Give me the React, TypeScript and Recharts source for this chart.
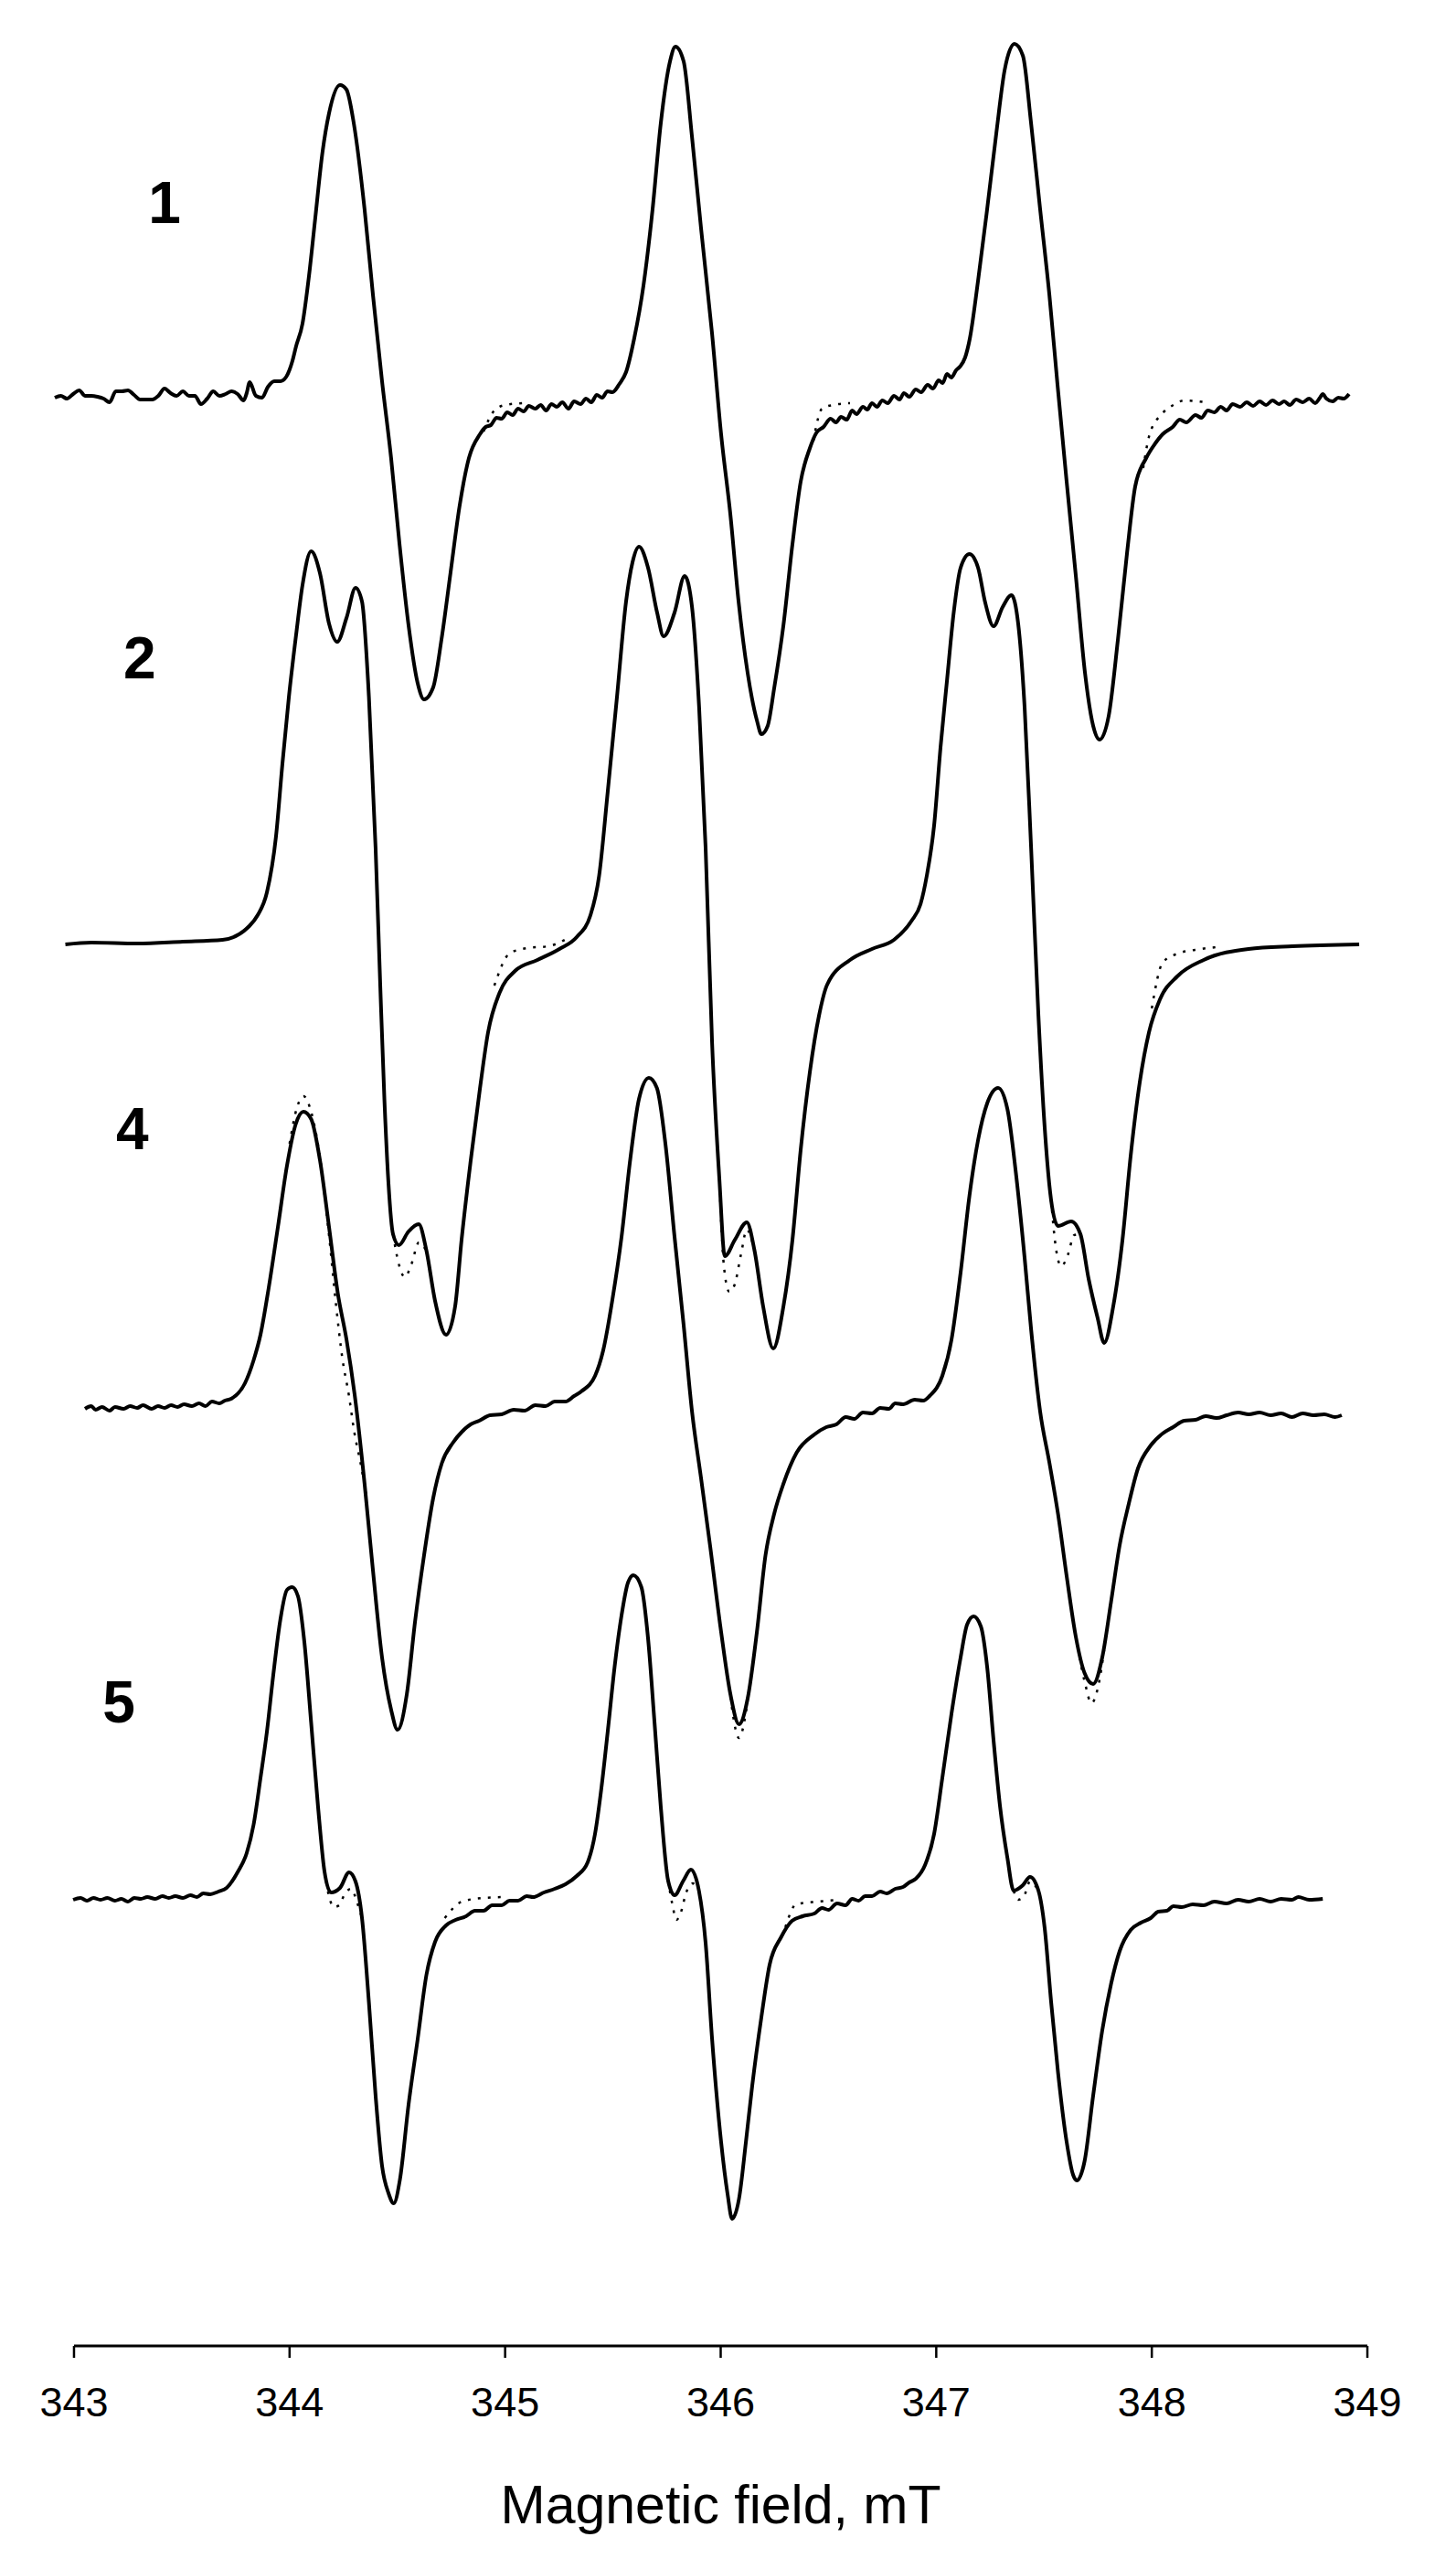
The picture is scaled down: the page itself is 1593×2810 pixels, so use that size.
import React from 'react';
import { LineChart, Line, XAxis, YAxis, ReferenceLine, ReferenceDot } from 'recharts';

type Pt = [number, number | null];

const FONT = '"Liberation Sans", Arial, Helvetica, sans-serif';

const FIELD_TICKS = [343, 344, 345, 346, 347, 348, 349];
const SPECTRUM_NAMES = ['1', '2', '4', '5'];
// baseline level of each stacked spectrum (vertical offset)
const BASELINES = [2129, 1533, 1025, 488];
const NAME_POS: [number, number][] = [
  [343.42, 2345],
  [343.305, 1847],
  [343.271, 1332],
  [343.208, 705],
];

// experimental spectra: [field mT, signal]
const EXP_1: Pt[] = [
  [342.911, 2], [342.939, 4], [342.967, 1], [342.996, 6], [343.024, 10], [343.052, 4], [343.081, 4],
  [343.109, 3], [343.137, 1], [343.165, -3], [343.194, 9], [343.222, 9], [343.25, 10], [343.279, 5],
  [343.307, 0], [343.335, 0], [343.363, 0], [343.391, 4], [343.42, 12], [343.448, 7], [343.476, 4],
  [343.505, 9], [343.533, 4], [343.561, 4], [343.589, -5], [343.618, 1], [343.646, 9], [343.674, 4],
  [343.703, 6], [343.731, 9], [343.759, 6], [343.787, -1], [343.801, 7], [343.815, 19], [343.844, 4],
  [343.872, 2], [343.9, 14], [343.929, 20], [343.957, 20], [343.985, 25], [343.999, 32], [344.013, 42],
  [344.03, 58], [344.06, 83], [344.09, 135],
  [344.119, 198], [344.153, 271], [344.183, 313], [344.234, 344], [344.264, 339], [344.298, 302],
  [344.348, 208], [344.387, 114], [344.429, 20], [344.471, -64], [344.51, -158], [344.552, -247],
  [344.594, -310], [344.624, -328], [344.666, -315], [344.705, -262], [344.747, -189], [344.789, -116],
  [344.832, -64], [344.883, -38], [344.91, -30], [344.934, -28], [344.96, -20], [344.984, -21],
  [345.01, -14], [345.035, -17], [345.06, -10], [345.086, -13], [345.11, -7], [345.14, -10],
  [345.165, -6], [345.19, -12], [345.215, -5], [345.24, -8], [345.265, -3], [345.294, -10], [345.32, -2],
  [345.35, -5], [345.375, 1], [345.4, -3], [345.425, 5], [345.45, 2], [345.475, 9], [345.498, 8],
  [345.53, 17], [345.561, 30], [345.599, 67], [345.642, 125], [345.684, 208], [345.722, 302],
  [345.765, 370], [345.79, 386], [345.828, 370], [345.867, 287], [345.909, 187], [345.96, 72],
  [346.002, -38], [346.045, -126], [346.083, -221], [346.125, -299], [346.168, -351], [346.189, -366],
  [346.218, -357], [346.248, -316], [346.291, -247], [346.333, -158], [346.371, -90], [346.414, -53],
  [346.445, -36], [346.477, -30], [346.51, -21], [346.535, -25], [346.558, -19], [346.585, -22],
  [346.61, -12], [346.63, -16], [346.66, -8], [346.68, -11], [346.702, -4], [346.725, -8], [346.75, -1],
  [346.775, -4], [346.804, 4], [346.83, 0], [346.85, 7], [346.875, 3], [346.905, 11], [346.93, 8],
  [346.96, 16], [346.985, 12], [347.011, 21], [347.03, 18], [347.05, 28], [347.07, 24], [347.092, 32],
  [347.11, 36], [347.134, 46], [347.156, 67],
  [347.194, 130], [347.236, 208], [347.279, 292], [347.317, 360], [347.363, 389], [347.402, 376],
  [347.44, 302], [347.482, 208], [347.525, 114], [347.563, 15], [347.605, -90], [347.648, -194],
  [347.69, -299], [347.728, -357], [347.758, -372], [347.8, -346], [347.843, -262], [347.885, -168],
  [347.923, -95], [347.974, -64], [348.016, -48], [348.05, -38], [348.097, -30], [348.13, -22],
  [348.16, -25], [348.203, -17], [348.23, -20], [348.26, -12], [348.29, -14], [348.32, -8],
  [348.347, -12], [348.375, -5], [348.41, -8], [348.44, -3], [348.47, -7], [348.5, -2], [348.53, -6],
  [348.56, -1], [348.59, -5], [348.614, -2], [348.64, -6], [348.67, 0], [348.7, -3], [348.73, 1],
  [348.758, -4], [348.78, 2], [348.793, 6], [348.81, 1], [348.839, -2], [348.865, 2], [348.89, 1],
  [348.915, 6],
];

const EXP_2: Pt[] = [
  [342.96, 0], [343.081, 2], [343.293, 1], [343.505, 3], [343.689, 5], [343.813, 20], [343.852, 32],
  [343.895, 57], [343.937, 118], [343.967, 198], [343.997, 271], [344.03, 338], [344.06, 393],
  [344.1, 430], [344.141, 406], [344.183, 351], [344.221, 331], [344.264, 357], [344.306, 390],
  [344.336, 375], [344.368, 271], [344.399, 106], [344.421, -47], [344.44, -170], [344.459, -262],
  [344.48, -317], [344.507, -329], [344.552, -314], [344.599, -306], [344.635, -335], [344.675, -390],
  [344.726, -427], [344.768, -396], [344.798, -323], [344.84, -237], [344.883, -158], [344.921, -96],
  [344.974, -53], [345.046, -29], [345.15, -17], [345.252, -5], [345.332, 8], [345.396, 32],
  [345.436, 75], [345.476, 167], [345.519, 271], [345.561, 375], [345.591, 418], [345.621, 435],
  [345.663, 412], [345.705, 363], [345.735, 337], [345.786, 363], [345.833, 403], [345.867, 369],
  [345.9, 259], [345.93, 106], [345.96, -107], [345.994, -257], [346.019, -341], [346.066, -323],
  [346.121, -304], [346.157, -335], [346.197, -396], [346.244, -442], [346.291, -396], [346.333, -323],
  [346.371, -225], [346.414, -139], [346.456, -78], [346.494, -44], [346.6, -17], [346.702, -5],
  [346.804, 5], [346.886, 26], [346.927, 44], [346.956, 75], [346.99, 130], [347.02, 216],
  [347.05, 289], [347.081, 363], [347.113, 412], [347.154, 427], [347.194, 412], [347.226, 375],
  [347.266, 348], [347.308, 369], [347.349, 382], [347.38, 351], [347.41, 259], [347.44, 106],
  [347.474, -78], [347.503, -200], [347.533, -280], [347.565, -308], [347.626, -303], [347.669, -317],
  [347.707, -366], [347.749, -409], [347.779, -436], [347.821, -396], [347.864, -323], [347.902, -231],
  [347.944, -151], [347.987, -96], [348.038, -60], [348.118, -35], [348.241, -17], [348.449, -5],
  [348.652, -2], [348.962, 0],
];

const EXP_4: Pt[] = [
  [343.051, 0], [343.08, 3], [343.1, -1], [343.13, 2], [343.165, -2], [343.19, 2], [343.23, 0],
  [343.26, 3], [343.293, 1], [343.32, 4], [343.36, 0], [343.39, 3], [343.42, 1], [343.45, 4],
  [343.48, 2], [343.51, 5], [343.547, 3], [343.58, 6], [343.61, 3], [343.64, 8], [343.674, 6],
  [343.7, 9], [343.729, 11], [343.793, 28], [343.833, 53],
  [343.865, 81], [343.903, 132], [343.946, 199], [343.988, 266], [344.028, 311], [344.064, 325],
  [344.1, 317], [344.141, 272], [344.183, 199], [344.224, 126], [344.264, 76], [344.306, 8],
  [344.348, -82], [344.387, -177], [344.429, -272], [344.471, -329], [344.501, -351], [344.544, -312],
  [344.582, -233], [344.624, -160], [344.666, -98], [344.707, -59], [344.758, -37], [344.8, -25],
  [344.84, -17], [344.88, -13], [344.93, -7], [344.984, -6], [345.04, -1], [345.09, -2], [345.14, 4],
  [345.188, 3], [345.23, 8], [345.28, 8], [345.32, 14], [345.353, 19], [345.417, 36], [345.455, 64],
  [345.498, 120], [345.54, 188], [345.58, 272], [345.621, 339], [345.667, 362], [345.704, 351],
  [345.744, 289], [345.786, 188], [345.828, 92], [345.867, -3], [345.909, -76], [345.951, -150],
  [346.002, -244], [346.045, -312], [346.085, -345], [346.125, -317], [346.168, -244], [346.208, -160],
  [346.248, -115], [346.291, -82], [346.352, -48], [346.435, -28], [346.49, -20], [346.537, -17],
  [346.58, -9], [346.62, -11], [346.66, -4], [346.702, -5], [346.74, 1], [346.78, 0], [346.81, 6],
  [346.846, 5], [346.9, 10], [346.94, 9], [346.969, 14], [347.028, 36], [347.071, 76], [347.113, 149],
  [347.154, 233], [347.194, 294], [347.236, 334], [347.287, 351], [347.33, 328], [347.368, 261],
  [347.41, 165], [347.44, 87], [347.482, -3], [347.525, -59], [347.565, -115], [347.605, -183],
  [347.648, -250], [347.688, -289], [347.728, -301], [347.77, -272], [347.811, -211], [347.851, -149],
  [347.893, -104], [347.936, -65], [347.995, -40], [348.05, -27], [348.099, -20], [348.15, -13],
  [348.203, -12], [348.25, -8], [348.3, -10], [348.347, -7], [348.4, -4], [348.45, -6], [348.5, -4],
  [348.551, -7], [348.6, -5], [348.65, -9], [348.7, -5], [348.75, -7], [348.8, -6], [348.85, -9],
  [348.881, -7],
];

const EXP_5: Pt[] = [
  [342.996, 0], [343.03, 2], [343.06, -1], [343.09, 2], [343.123, 0], [343.155, 2], [343.19, -1],
  [343.22, 1], [343.25, -2], [343.28, 2], [343.31, 1], [343.34, 3], [343.377, 1], [343.41, 4],
  [343.44, 2], [343.47, 4], [343.505, 2], [343.54, 5], [343.57, 3], [343.6, 7], [343.632, 6],
  [343.67, 9], [343.708, 13], [343.761, 31], [343.801, 51],
  [343.833, 82], [343.865, 133], [343.895, 184], [343.924, 245], [343.957, 306], [343.988, 339],
  [344.012, 342], [344.039, 332], [344.069, 281], [344.1, 194], [344.132, 102], [344.162, 31],
  [344.192, 8], [344.234, 13], [344.276, 30], [344.306, 20], [344.336, -20], [344.368, -112],
  [344.399, -214], [344.429, -291], [344.459, -321], [344.483, -332], [344.512, -306], [344.552, -224],
  [344.594, -153], [344.635, -82], [344.675, -46], [344.726, -28], [344.77, -22], [344.819, -18],
  [344.86, -12], [344.9, -12], [344.94, -6], [344.984, -6], [345.02, -1], [345.06, -1], [345.1, 4],
  [345.129, 3], [345.18, 8], [345.23, 12], [345.28, 17], [345.332, 26], [345.383, 41],
  [345.417, 72], [345.447, 123], [345.476, 184], [345.508, 255], [345.54, 311], [345.57, 347],
  [345.595, 355], [345.632, 342], [345.663, 286], [345.693, 194], [345.722, 102], [345.756, 21],
  [345.786, 5], [345.827, 21], [345.862, 33], [345.899, 10], [345.93, -47], [345.96, -152],
  [346.002, -265], [346.032, -322], [346.053, -349], [346.085, -327], [346.117, -265], [346.146, -204],
  [346.189, -128], [346.227, -71], [346.28, -41], [346.331, -23], [346.38, -18], [346.435, -15],
  [346.47, -9], [346.5, -11], [346.54, -4], [346.579, -6], [346.61, 1], [346.64, -1], [346.67, 4],
  [346.702, 4], [346.74, 9], [346.77, 7], [346.81, 12], [346.846, 14], [346.875, 19], [346.905, 23],
  [346.948, 38], [346.99, 72], [347.028, 133], [347.071, 204], [347.113, 265], [347.143, 301],
  [347.173, 310], [347.207, 299], [347.236, 255], [347.266, 174], [347.296, 102], [347.33, 46],
  [347.359, 10], [347.402, 16], [347.435, 25], [347.474, 10], [347.503, -31], [347.533, -112],
  [347.565, -189], [347.605, -265], [347.635, -301], [347.652, -307], [347.688, -286], [347.728, -214],
  [347.77, -143], [347.811, -92], [347.851, -56], [347.902, -33], [347.95, -25], [347.995, -20],
  [348.03, -13], [348.07, -12], [348.1, -7], [348.139, -8], [348.19, -5], [348.24, -6], [348.29, -2],
  [348.347, -4], [348.4, 0], [348.45, -2], [348.5, 1], [348.551, -2], [348.6, 1], [348.65, 0],
  [348.68, 3], [348.73, 0], [348.793, 1],
];

// simulated spectra (dotted), only where they part from the experiment
const FIT_1: Pt[] = [
  [344.9, -35], [344.95, -12], [345.0, -6], [345.08, -4], [345.1, null],
  [346.43, -45], [346.47, -10], [346.52, -6], [346.6, -4], [346.62, null],
  [347.96, -75], [347.99, -38], [348.05, -15], [348.1, -6], [348.15, -1], [348.25, -3],
];

const FIT_2: Pt[] = [
  [344.48, -317], [344.505, -348], [344.535, -364], [344.565, -350], [344.6, -326], [344.635, -335],
  [344.65, null],
  [344.95, -45], [345.02, -10], [345.1, -4], [345.2, -2], [345.3, 8], [345.31, null],
  [345.994, -257], [346.015, -352], [346.04, -380], [346.065, -372], [346.095, -338], [346.121, -312],
  [346.157, -335], [346.17, null],
  [347.533, -280], [347.555, -332], [347.58, -352], [347.61, -340], [347.64, -318], [347.669, -317],
  [347.68, null],
  [348.0, -70], [348.05, -20], [348.12, -10], [348.2, -6], [348.3, -3],
];

const FIT_4: Pt[] = [
  [344.0, 290], [344.035, 330], [344.065, 342], [344.1, 325], [344.141, 275], [344.183, 190],
  [344.215, 115], [344.245, 55], [344.275, 15], [344.3, -25], [344.33, -60], [344.36, -100],
  [344.38, null],
  [346.045, -315], [346.085, -360], [346.125, -320], [346.13, null],
  [347.648, -250], [347.69, -300], [347.72, -322], [347.75, -305], [347.78, -262],
];

const FIT_5: Pt[] = [
  [344.162, 31], [344.185, 2], [344.205, -8], [344.23, -6], [344.255, 6], [344.285, 12], [344.315, -4],
  [344.336, -20], [344.35, null],
  [344.72, -20], [344.8, -2], [344.9, 2], [345.0, 3], [345.01, null],
  [345.756, 21], [345.775, -4], [345.795, -22], [345.815, -14], [345.84, 8], [345.87, 18], [345.899, 10],
  [345.91, null],
  [346.3, -30], [346.35, -5], [346.45, -2], [346.55, 0], [346.56, null],
  [347.359, 10], [347.38, 0], [347.405, 3], [347.435, 20], [347.474, 10],
];

const EXPERIMENT = [EXP_1, EXP_2, EXP_4, EXP_5];
const SIMULATION = [FIT_1, FIT_2, FIT_4, FIT_5];

const toRows = (pts: Pt[], base: number) =>
  pts.map(([x, y]) => ({ x, y: y === null ? null : y + base }));

export default function App() {
  return (
    <div style={{ position: 'absolute', left: 0, top: 0, width: 1593, height: 2810, background: '#fff' }}>
      <LineChart width={1593} height={2810} margin={{ top: 0, right: 49.8, bottom: 0, left: 33.8 }}>
        <XAxis
          type="number"
          dataKey="x"
          domain={[342.8, 349.2]}
          allowDataOverflow
          ticks={FIELD_TICKS}
          interval={0}
          axisLine={false}
          tickSize={13}
          tickMargin={32}
          height={244}
          tickLine={{ stroke: '#000', strokeWidth: 2.5 }}
          tick={{ fontSize: 45, fill: '#000', fontFamily: FONT }}
          label={{
            value: 'Magnetic field, mT',
            position: 'insideBottom',
            offset: 50,
            fontSize: 59,
            fill: '#000',
            fontFamily: FONT,
          }}
        />
        <YAxis type="number" domain={[0, 2566]} allowDataOverflow hide width={0} />
        <ReferenceLine
          segment={[{ x: 343, y: 0 }, { x: 349, y: 0 }]}
          stroke="#000"
          strokeWidth={3}
          ifOverflow="visible"
        />
        {SIMULATION.map((pts, i) => (
          <Line
            key={`fit-${i}`}
            data={toRows(pts, BASELINES[i])}
            dataKey="y"
            type="monotone"
            stroke="#000"
            strokeWidth={2.5}
            strokeDasharray="3 8"
            dot={false}
            activeDot={false}
            isAnimationActive={false}
          />
        ))}
        {EXPERIMENT.map((pts, i) => (
          <Line
            key={`exp-${i}`}
            data={toRows(pts, BASELINES[i])}
            dataKey="y"
            type="monotone"
            stroke="#000"
            strokeWidth={4}
            dot={false}
            activeDot={false}
            isAnimationActive={false}
          />
        ))}
        {SPECTRUM_NAMES.map((name, i) => (
          <ReferenceDot
            key={name}
            x={NAME_POS[i][0]}
            y={NAME_POS[i][1]}
            r={0}
            fill="none"
            stroke="none"
            ifOverflow="visible"
            label={{
              value: name,
              position: 'center',
              fontSize: 64,
              fontWeight: 'bold',
              fill: '#000',
              fontFamily: FONT,
            }}
          />
        ))}
      </LineChart>
    </div>
  );
}
